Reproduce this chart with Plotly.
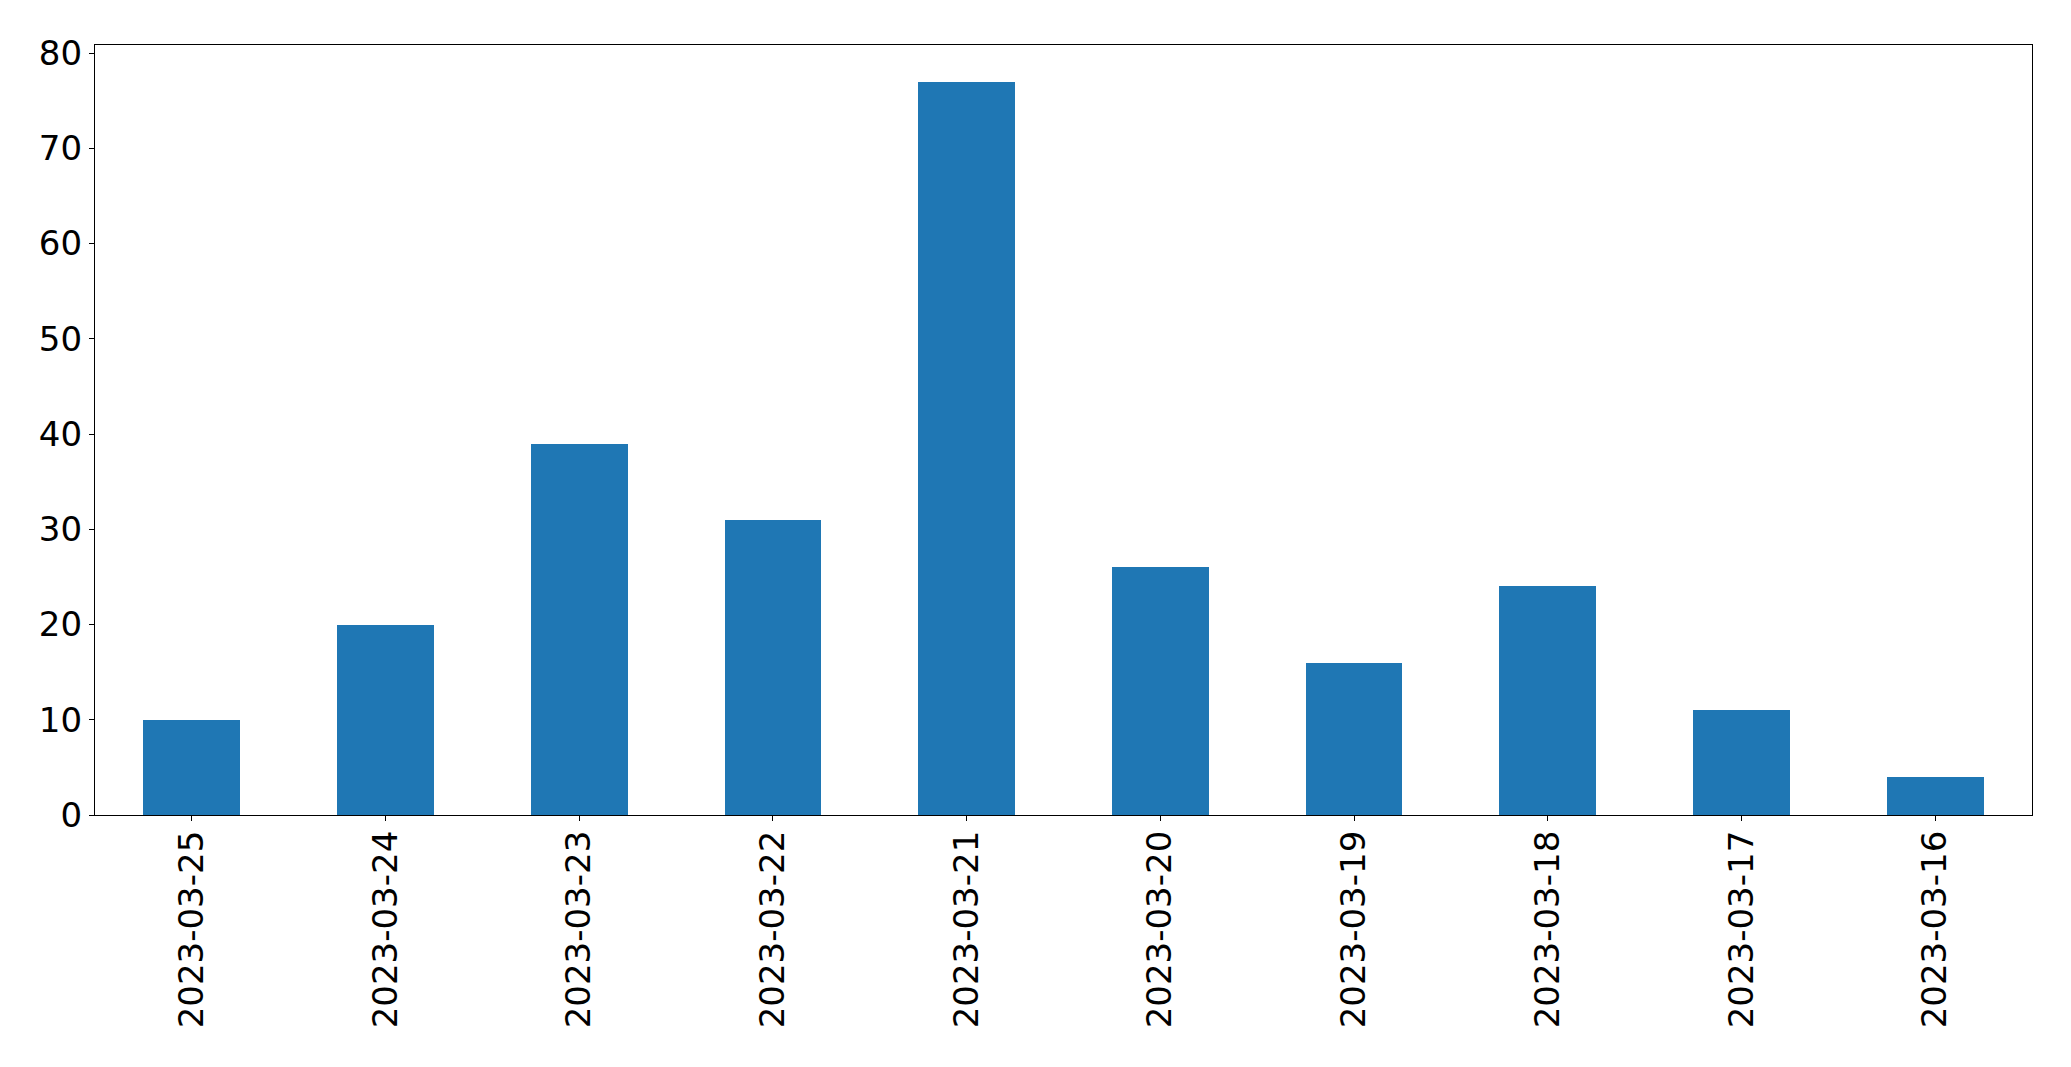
import plotly.graph_objects as go

dates = ["2023-03-25", "2023-03-24", "2023-03-23", "2023-03-22", "2023-03-21",
         "2023-03-20", "2023-03-19", "2023-03-18", "2023-03-17", "2023-03-16"]
counts = [10, 20, 39, 31, 77, 26, 16, 24, 11, 4]
y_ticks = [0, 10, 20, 30, 40, 50, 60, 70, 80]

fig = go.Figure(go.Bar(x=dates, y=counts, marker_color="#1f77b4", width=0.5,
                       marker_line_width=0))

axis_common = dict(showline=True, linecolor="black", linewidth=1.3, mirror=True,
                   ticks="outside", ticklen=5, tickwidth=1.3, tickcolor="black",
                   showgrid=False, zeroline=False,
                   tickfont=dict(family="DejaVu Sans", size=34, color="black"))

fig.update_layout(
    width=2063, height=1059,
    margin=dict(l=87, r=39, t=37, b=252, pad=0),
    paper_bgcolor="white", plot_bgcolor="white",
    showlegend=False,
    xaxis=dict(type="category", range=[-0.5, 9.5], tickangle=-90,
               ticklabelstandoff=-4, **axis_common),
    yaxis=dict(range=[0, 80.85], tickvals=y_ticks, **axis_common),
    bargap=0,
)

fig.write_html("out.html")
